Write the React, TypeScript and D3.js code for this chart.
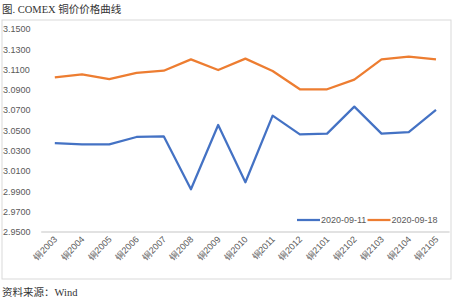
import React from "react";
import * as d3 from "d3";

const categories = ["铜2003","铜2004","铜2005","铜2006","铜2007","铜2008","铜2009","铜2010","铜2011","铜2012","铜2101","铜2102","铜2103","铜2104","铜2105"];
const series0911 = [3.0375,3.0364,3.0364,3.0436,3.0443,2.9921,3.0554,2.9990,3.0646,3.0462,3.0469,3.0735,3.0469,3.0485,3.0702];
const series0918 = [3.1024,3.1054,3.1007,3.1067,3.1089,3.1201,3.1096,3.1208,3.1086,3.0906,3.0906,3.1001,3.1201,3.1227,3.1201];
const yTicks = [2.95,2.97,2.99,3.01,3.03,3.05,3.07,3.09,3.11,3.13,3.15];
const seriesNames = ["2020-09-11","2020-09-18"];
const colors = ["#4472C4","#ED7D31"];

export default function App() {
  const W = 455, H = 303;
  const left = 41.2, right = 449.6, top = 29, bottom = 232;
  const x = d3.scaleBand<string>().domain(categories).range([left, right]);
  const y = d3.scaleLinear().domain([2.95, 3.15]).range([bottom, top]);
  const cx = (c: string) => (x(c) as number) + x.bandwidth() / 2;
  const line = d3.line<number>().x((_, i) => cx(categories[i])).y(d => y(d));
  const allSeries = [series0911, series0918];
  const tickFont = "'Liberation Sans', Arial, sans-serif";
  const serif = "'Liberation Serif', 'Noto Sans CJK SC', serif";
  return (
    <svg width={W} height={H} style={{ position: "absolute", left: 0, top: 0, background: "#fff" }}>
      <rect x={0} y={0} width={W} height={H} fill="#fff" />
      <text x={2} y={13} fontSize={10.5} fontFamily={serif} fill="#333">图. COMEX 铜价价格曲线</text>
      <rect x={2} y={20} width={449} height={259} fill="none" stroke="#d9d9d9" strokeWidth={1} />
      {yTicks.map(t => (
        <text key={t} x={3} y={y(t) + 3.2} fontSize={9} fontFamily={tickFont} fill="#595959">{t.toFixed(4)}</text>
      ))}
      <line x1={left} x2={right} y1={y(2.95)} y2={y(2.95)} stroke="#d9d9d9" strokeWidth={1.5} />
      {categories.map(c => (
        <text key={c} transform={`translate(${cx(c) + 3},${240}) rotate(-45)`} textAnchor="end" fontSize={9} fontFamily={tickFont} fill="#595959">{c}</text>
      ))}
      {allSeries.map((s, i) => (
        <path key={i} d={line(s) || ""} fill="none" stroke={colors[i]} strokeWidth={2.25} strokeLinejoin="round" />
      ))}
      {seriesNames.map((n, i) => {
        const lx = 297 + i * 70.5;
        return (
          <g key={n}>
            <line x1={lx} x2={lx + 23} y1={220} y2={220} stroke={colors[i]} strokeWidth={2.25} />
            <text x={lx + 24} y={223.2} fontSize={9} fontFamily={tickFont} fill="#595959">{n}</text>
          </g>
        );
      })}
      <text x={2} y={296} fontSize={10.5} fontFamily={serif} fill="#333">资料来源：Wind</text>
    </svg>
  );
}
